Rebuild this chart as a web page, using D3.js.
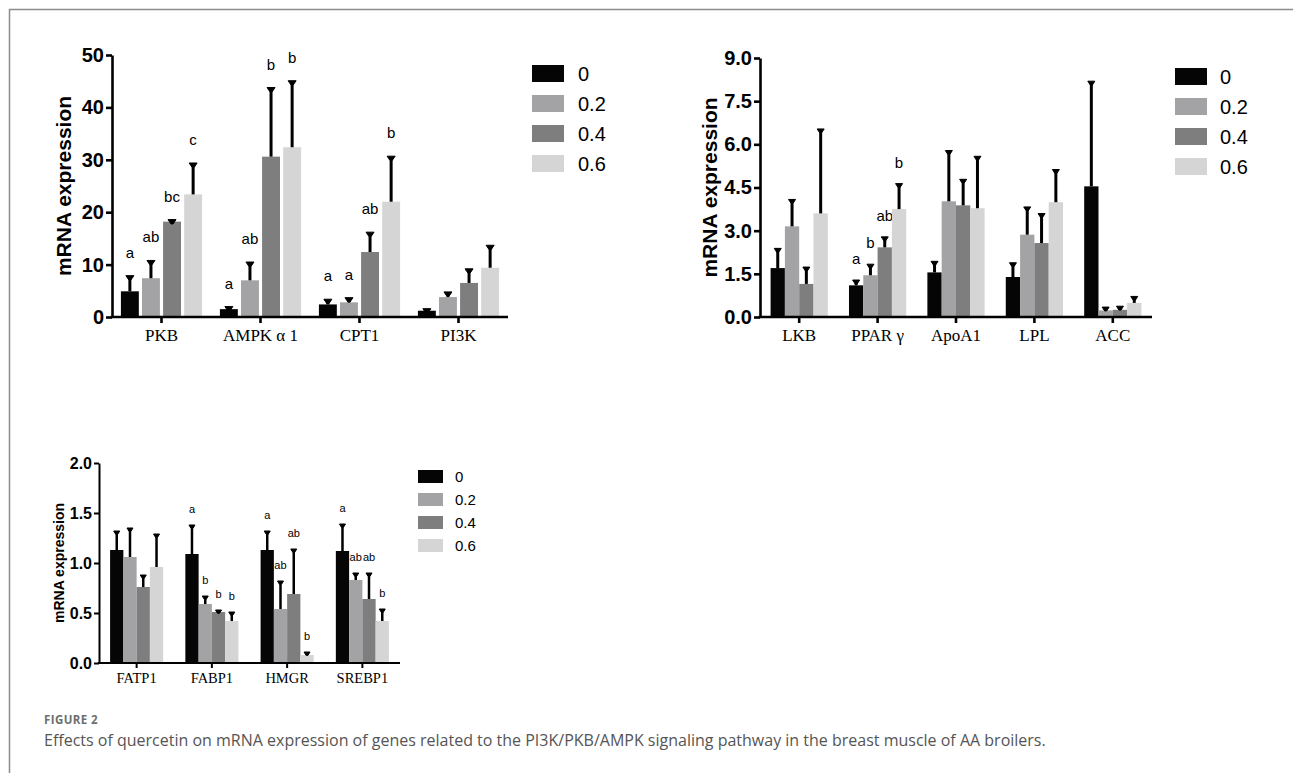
<!DOCTYPE html>
<html>
<head>
<meta charset="utf-8">
<script src="https://cdn.jsdelivr.net/npm/d3@7"></script>
<style>
  body { margin: 0; background: #fff; }
  svg { display: block; }
</style>
</head>
<body>
<div id="figure"></div>
<script>
// dose groups (quercetin, %)
var groups = ["0", "0.2", "0.4", "0.6"];
var groupColors = ["#050505", "#a3a3a5", "#7e7e7e", "#d5d5d5"];

// panel A
var genesA = ["PKB", "AMPK α 1", "CPT1", "PI3K"];
var meansA = [[4.9, 7.4, 18.2, 23.4], [1.5, 7.0, 30.6, 32.4], [2.4, 2.8, 12.4, 22.0], [1.2, 3.8, 6.5, 9.4]];
var errorsA = [[2.8, 3.2, 0.2, 5.8], [0.3, 3.3, 13.0, 12.5], [0.8, 0.7, 3.6, 8.5], [0.2, 0.8, 2.5, 4.1]];
var lettersA = [["a", "ab", "bc", "c"], ["a", "ab", "b", "b"], ["a", "a", "ab", "b"], ["", "", "", ""]];
var ticksA = [0, 10, 20, 30, 40, 50];

// panel B
var genesB = ["LKB", "PPAR γ", "ApoA1", "LPL", "ACC"];
var meansB = [[1.70, 3.15, 1.15, 3.60], [1.10, 1.45, 2.42, 3.75], [1.55, 4.02, 3.88, 3.78], [1.39, 2.86, 2.57, 3.99], [4.54, 0.23, 0.25, 0.49]];
var errorsB = [[0.65, 0.90, 0.55, 2.90], [0.15, 0.35, 0.33, 0.85], [0.35, 1.73, 0.87, 1.77], [0.46, 0.93, 0.99, 1.10], [3.62, 0.08, 0.09, 0.19]];
var lettersB = [["", "", "", ""], ["a", "b", "ab", "b"], ["", "", "", ""], ["", "", "", ""], ["", "", "", ""]];
var ticksB = [0, 1.5, 3.0, 4.5, 6.0, 7.5, 9.0];

// panel C
var genesC = ["FATP1", "FABP1", "HMGR", "SREBP1"];
var meansC = [[1.13, 1.06, 0.76, 0.96], [1.09, 0.59, 0.51, 0.42], [1.13, 0.54, 0.69, 0.08], [1.12, 0.83, 0.64, 0.42]];
var errorsC = [[0.18, 0.28, 0.11, 0.32], [0.28, 0.07, 0.01, 0.08], [0.18, 0.27, 0.44, 0.02], [0.26, 0.06, 0.25, 0.11]];
var lettersC = [["", "", "", ""], ["a", "b", "b", "b"], ["a", "ab", "ab", "b"], ["a", "ab", "ab", "b"]];
var ticksC = [0, 0.5, 1.0, 1.5, 2.0];

var W = 1293, H = 773;
var svg = d3.select("#figure").append("svg")
    .attr("width", W)
    .attr("height", H);

// frame of the figure box
svg.append("path")
  .attr("d", "M9.5," + H + "V9.5H" + W)
  .attr("fill", "none")
  .attr("stroke", "#8c8c8c")
  .attr("stroke-width", 1.5);

function drawPanel(o) {
  var g = svg.append("g");

  var x = d3.scaleBand()
    .domain(o.genes)
    .range([o.left, o.right])
    .paddingInner(o.padding)
    .paddingOuter(o.padding / 2);

  var xi = d3.scaleBand()
    .domain(groups)
    .range([0, x.bandwidth()])
    .paddingInner(o.barGap);

  var y = d3.scaleLinear()
    .domain([0, d3.max(o.ticks)])
    .range([o.bottom, o.top]);

  // bars
  o.genes.forEach(function(gene, i) {
    var cell = g.append("g").attr("transform", "translate(" + x(gene) + ",0)");
    groups.forEach(function(grp, j) {
      var m = o.means[i][j], e = o.errors[i][j];
      var cx = xi(grp) + xi.bandwidth() / 2;
      cell.append("rect")
        .attr("x", xi(grp))
        .attr("width", xi.bandwidth())
        .attr("y", y(m))
        .attr("height", y(0) - y(m))
        .attr("fill", groupColors[j]);
      // upper error bar
      cell.append("line")
        .attr("x1", cx).attr("x2", cx)
        .attr("y1", y(m)).attr("y2", y(m + e))
        .attr("stroke", "#000")
        .attr("stroke-width", o.errW);
      cell.append("path")
        .attr("d", "M" + (cx - o.capW / 2) + "," + (y(m + e) - 1) + "h" + o.capW + "l-" + (o.capW / 2 - 1) + "," + (o.capW * 0.55) + "h-2z")
        .attr("fill", "#000")
        .attr("stroke", "#000")
        .attr("stroke-width", 1);
      var lab = o.letters[i][j];
      if (lab) {
        cell.append("text")
          .attr("x", cx)
          .attr("y", y(m + e) - o.letterGap)
          .attr("text-anchor", "middle")
          .style("font-family", "'Liberation Sans', Arial, sans-serif")
          .style("font-size", o.letterSize + "px")
          .text(lab);
      }
    });
  });

  // y axis
  var ya = g.append("g")
    .attr("transform", "translate(" + o.left + ",0)")
    .call(d3.axisLeft(y).tickValues(o.ticks).tickFormat(d3.format(o.fmt)).tickSize(o.tick).tickSizeOuter(0).tickPadding(2));
  ya.selectAll("text")
    .style("font-family", "'Liberation Sans', Arial, sans-serif")
    .style("font-weight", "bold")
    .style("font-size", o.tickSize + "px")
    .attr("fill", "#000");

  // x axis
  var xa = g.append("g")
    .attr("transform", "translate(0," + o.bottom + ")")
    .call(d3.axisBottom(x).tickSize(o.tick).tickSizeOuter(0).tickPadding(o.xPad));
  xa.selectAll("text")
    .style("font-family", "'Liberation Serif', 'DejaVu Serif', serif")
    .style("font-size", o.xSize + "px")
    .attr("fill", "#000");

  g.selectAll(".domain, .tick line")
    .attr("stroke", "#000")
    .attr("stroke-width", o.axisW);
  xa.select(".domain").attr("d", "M" + (o.left - o.axisW / 2) + ",0H" + o.right);

  // y title
  g.append("text")
    .attr("transform", "translate(" + o.titleX + "," + ((o.top + o.bottom) / 2) + ")rotate(-90)")
    .attr("text-anchor", "middle")
    .attr("dominant-baseline", "central")
    .style("font-family", "'Liberation Sans', Arial, sans-serif")
    .style("font-weight", "bold")
    .style("font-size", o.titleSize + "px")
    .text("mRNA expression");

  // legend
  var lg = g.append("g").attr("transform", "translate(" + o.legX + "," + o.legY + ")");
  groups.forEach(function(grp, j) {
    lg.append("rect")
      .attr("x", 0)
      .attr("y", j * o.legStep)
      .attr("width", o.swW)
      .attr("height", o.swH)
      .attr("fill", groupColors[j]);
    lg.append("text")
      .attr("x", o.swW + o.legTextGap)
      .attr("y", j * o.legStep + o.swH / 2)
      .attr("dominant-baseline", "central")
      .style("font-family", "'Liberation Sans', Arial, sans-serif")
      .style("font-size", o.legSize + "px")
      .text(grp);
  });
}

drawPanel({
  genes: genesA, means: meansA, errors: errorsA, letters: lettersA, ticks: ticksA, fmt: "d",
  left: 112, right: 508, top: 55, bottom: 317, padding: 0.18, barGap: 0.15,
  errW: 3, capW: 8, letterGap: 19, letterSize: 15, tick: 6, axisW: 2.6,
  tickSize: 20, xSize: 17, xPad: 6, titleX: 63, titleSize: 21,
  legX: 532, legY: 65, legStep: 30, swW: 32, swH: 17, legTextGap: 14, legSize: 20
});

drawPanel({
  genes: genesB, means: meansB, errors: errorsB, letters: lettersB, ticks: ticksB, fmt: ".1f",
  left: 760, right: 1152, top: 58, bottom: 317, padding: 0.27, barGap: 0,
  errW: 3, capW: 7, letterGap: 17, letterSize: 15, tick: 6, axisW: 2.6,
  tickSize: 20, xSize: 17, xPad: 6, titleX: 709, titleSize: 21,
  legX: 1175, legY: 68, legStep: 30, swW: 32, swH: 17, legTextGap: 13, legSize: 20
});

drawPanel({
  genes: genesC, means: meansC, errors: errorsC, letters: lettersC, ticks: ticksC, fmt: ".1f",
  left: 99, right: 400, top: 463, bottom: 663, padding: 0.295, barGap: 0,
  errW: 2.5, capW: 6, letterGap: 13, letterSize: 11, tick: 5, axisW: 2,
  tickSize: 16, xSize: 14.5, xPad: 5, titleX: 59, titleSize: 14,
  legX: 418, legY: 470, legStep: 23, swW: 25, swH: 13, legTextGap: 12, legSize: 15
});

// caption
svg.append("text")
  .attr("x", 44)
  .attr("y", 724)
  .style("font-family", "'Open Sans', 'Noto Sans', sans-serif")
  .style("font-weight", "bold")
  .style("font-size", "11.5px")
  .style("letter-spacing", "0.4px")
  .attr("fill", "#6e6e6e")
  .text("FIGURE 2");

svg.append("text")
  .attr("x", 44)
  .attr("y", 746)
  .style("font-family", "'Open Sans', 'Noto Sans', sans-serif")
  .style("font-size", "16px")
  .attr("fill", "#555")
  .text("Effects of quercetin on mRNA expression of genes related to the PI3K/PKB/AMPK signaling pathway in the breast muscle of AA broilers.");
</script>
</body>
</html>
